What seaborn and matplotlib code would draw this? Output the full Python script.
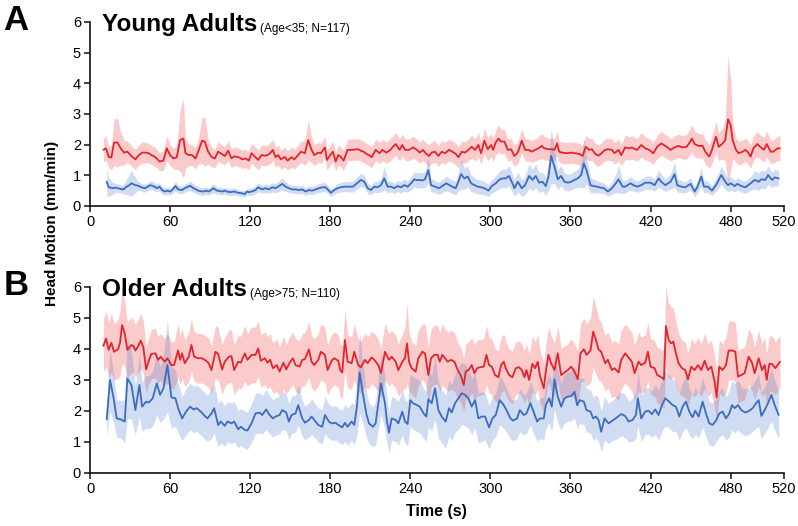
import numpy as np
import pandas as pd
import matplotlib
matplotlib.use("Agg")
import matplotlib.pyplot as plt
from matplotlib import font_manager
import seaborn as sns

# (time s, mean, band half-width)
young_red = [(10,1.83,0.38),(12,1.88,0.4),(14,1.6,0.35),(16,1.58,0.4),(18,2.07,0.75),(20.5,2.07,0.8),(23,1.88,0.55),(25.5,1.74,0.4),(28,1.77,0.35),(31,1.63,0.33),(34,1.52,0.33),(36,1.63,0.32),(39,1.74,0.35),(42,1.74,0.33),(44,1.72,0.32),(46,1.66,0.3),(48,1.62,0.32),(50,1.55,0.3),(52,1.45,0.3),(55,1.48,0.32),(57.5,1.88,0.4),(60,1.66,0.35),(62.5,1.55,0.33),(65,1.59,0.4),(67.5,2.15,1.0),(70,2.2,1.3),(71.5,1.72,0.5),(74,1.66,0.35),(76.5,1.66,0.33),(79,1.55,0.35),(81,1.77,0.4),(84,2.13,0.75),(86,2.1,0.8),(88.5,1.77,0.4),(91,1.6,0.33),(93.5,1.55,0.3),(96,1.77,0.33),(98.5,1.7,0.3),(101,1.63,0.3),(103.5,1.8,0.33),(106,1.55,0.3),(108,1.62,0.3),(110,1.6,0.3),(112,1.58,0.3),(114,1.52,0.3),(116.5,1.55,0.3),(119,1.48,0.3),(121,1.72,0.32),
    (124,1.59,0.33),(126,1.5,0.32),(128.5,1.66,0.33),(131,1.64,0.33),(133,1.66,0.33),(135,1.72,0.34),(137,1.83,0.35),(139,1.59,0.33),(141,1.66,0.33),(143,1.52,0.32),(146,1.6,0.33),(148,1.48,0.32),(151,1.59,0.33),(153,1.52,0.32),(156,1.66,0.33),(158,1.77,0.35),(161,1.72,0.4),(163.5,2.15,0.65),(166,1.83,0.42),(168,1.66,0.35),(171,1.74,0.33),(173,1.72,0.33),(176,1.91,0.35),(177.5,1.5,0.33),(180,1.66,0.33),(182,1.77,0.33),(184,1.45,0.32),(186,1.66,0.33),(188,1.6,0.33),(190,1.48,0.33),(193,1.83,0.35),(196,1.83,0.35),(198.5,1.84,0.35),(201,1.85,0.35),(203,1.8,0.35),(205,1.77,0.35),(207,1.7,0.34),(209,1.66,0.34),(211,1.59,0.34),(214,1.83,0.35),(217,1.72,0.35),(219,1.83,0.35),(222,1.74,0.35),(225,1.83,0.36),(227,1.93,0.36),(229,2.02,0.38),(232,1.83,0.36),(234,1.99,0.36),(236,1.83,0.35),(239,1.83,0.35),(242,1.91,0.36),(245,1.83,0.35),(247,1.74,0.35),(249.5,1.83,0.35),
    (251.5,1.72,0.35),(254,1.63,0.35),(256,1.74,0.35),(258.5,1.77,0.35),(261,1.63,0.34),(263.5,1.77,0.35),(266,1.72,0.35),(269,1.83,0.36),(271.5,1.77,0.35),(274,1.7,0.35),(276,1.59,0.34),(278.5,1.77,0.35),(281,1.74,0.35),(283.5,1.83,0.36),(286,1.93,0.38),(288.5,1.83,0.36),(291,1.99,0.4),(293,1.72,0.36),(295.5,2.13,0.42),(298,1.85,0.38),(300.5,1.99,0.38),(302,1.83,0.38),(304,2.07,0.4),(306,2.2,0.45),(308,2.1,0.4),(310.5,2.1,0.4),(313,1.83,0.36),(315.5,1.85,0.36),(318,1.63,0.35),(320.5,1.74,0.35),(323.5,2.13,0.4),(326,1.83,0.36),(328.5,1.83,0.36),(331,1.77,0.35),(333.5,1.83,0.36),(336,1.88,0.38),(338.5,1.96,0.4),(340.5,1.88,0.38),(343.5,1.85,0.36),(346,1.85,0.36),(348,1.83,0.36),(350,2.04,0.4),(351.5,1.77,0.35),(354,1.74,0.35),(357,1.72,0.35),(360.5,1.74,0.35),(363.5,1.72,0.35),(366.5,1.7,0.35),(369,1.63,0.35),(371.5,1.93,0.38),(374,1.83,0.36),(376,1.85,0.36),
    (378.5,1.7,0.35),(381,1.64,0.35),(383,1.71,0.35),(386,1.83,0.36),(388,1.85,0.36),(391,1.83,0.36),(393,1.72,0.35),(396,1.83,0.36),(398,1.66,0.35),(401,1.91,0.4),(404,1.88,0.38),(406,1.91,0.38),(408,1.86,0.37),(410,1.83,0.36),(413,1.99,0.4),(416,1.88,0.38),(419,1.83,0.36),(422,1.72,0.36),(425,1.93,0.38),(428,2.04,0.4),(431,1.96,0.38),(433,1.9,0.38),(435,1.83,0.36),(438,1.91,0.38),(441,1.96,0.38),(444,1.91,0.38),(447,1.93,0.4),(449,2.05,0.42),(451,2.2,0.45),(453,2.02,0.42),(456,1.96,0.4),(459,1.96,0.4),(461,1.77,0.4),(464,1.61,0.38),(466,1.83,0.45),(469,2.26,0.5),(471,1.93,0.45),(474,2.04,0.5),(476,2.15,0.7),(478,2.83,2.1),(480,2.64,1.5),(481.5,2.15,0.6),(484,1.83,0.4),(486,1.72,0.38),(489,1.77,0.38),(491,1.83,0.38),(493,1.75,0.38),(495,1.61,0.38),(497,1.88,0.4),(500,2.02,0.42),(502,1.93,0.4),(505,1.83,0.4),(507,2.02,0.42),(510,1.77,0.38),(512,1.77,0.38),(515,1.88,0.4),(517,1.88,0.4)]

young_blue = [(12.5,0.79,0.45),(14,0.61,0.3),(17.5,0.58,0.18),(19,0.6,0.15),(21,0.58,0.14),(23,0.55,0.13),(25,0.54,0.15),(27.5,0.63,0.25),(29.5,0.68,0.35),(31,0.74,0.42),(34,0.68,0.25),(36,0.66,0.15),(37.5,0.63,0.14),(39,0.6,0.13),(41,0.58,0.13),(43,0.62,0.13),(45,0.68,0.14),(47.5,0.65,0.14),(50,0.58,0.13),(52,0.63,0.13),(54,0.52,0.12),(56,0.47,0.12),(58,0.5,0.12),(60,0.47,0.12),(62,0.54,0.13),(64,0.65,0.15),(66,0.54,0.13),(69,0.52,0.12),(71,0.58,0.13),(73,0.62,0.14),(75,0.66,0.16),(77.5,0.58,0.14),(79,0.55,0.13),(81,0.5,0.12),(83,0.48,0.12),(85,0.47,0.12),(87,0.5,0.12),(89,0.47,0.12),(92.5,0.58,0.15),(95,0.5,0.12),(97,0.49,0.11),(99,0.47,0.11),(101,0.5,0.11),(102.5,0.47,0.11),(105,0.45,0.11),(107.5,0.47,0.11),(109,0.46,0.11),(111,0.43,0.1),(113,0.42,0.1),(116,0.39,0.1),(117.5,0.47,0.11),(119,0.45,0.11),(121,0.47,0.12),
    (124,0.52,0.13),(126,0.61,0.14),(129,0.54,0.13),(131.5,0.58,0.14),(134,0.54,0.13),(136.5,0.61,0.15),(139,0.58,0.15),(141.5,0.65,0.17),(144,0.72,0.2),(146.5,0.63,0.16),(149,0.58,0.14),(151.5,0.54,0.13),(154,0.54,0.13),(156.5,0.52,0.13),(159,0.54,0.13),(161.5,0.47,0.12),(164,0.52,0.13),(166.5,0.5,0.13),(169,0.54,0.13),(171.5,0.58,0.14),(174,0.61,0.15),(176.5,0.61,0.15),(179,0.5,0.13),(180.5,0.43,0.12),(183,0.52,0.13),(185.5,0.58,0.15),(188,0.61,0.16),(190.5,0.63,0.16),(193.5,0.63,0.17),(197,0.63,0.18),(200,0.74,0.2),(203,0.85,0.22),(205.5,0.79,0.2),(208,0.58,0.17),(210.5,0.52,0.16),(213,0.63,0.18),(215.5,0.61,0.18),(218,0.68,0.22),(220.5,0.9,0.38),(223,0.63,0.2),(225.5,0.63,0.18),(228,0.58,0.17),(230.5,0.65,0.18),(233,0.61,0.18),(235.5,0.68,0.2),(238,0.63,0.18),(240.5,0.74,0.22),(243,0.87,0.25),(245,0.84,0.25),(247,0.85,0.25),(249,0.83,0.25),
    (251,0.87,0.27),(253.5,1.17,0.4),(255.5,0.68,0.22),(258.5,0.63,0.2),(261.5,0.58,0.2),(265,0.68,0.22),(267,0.74,0.24),(270.5,0.65,0.22),(274,0.58,0.22),(276,0.79,0.3),(278,1.04,0.5),(280.5,0.9,0.35),(283,0.96,0.33),(285.5,0.74,0.27),(288,0.68,0.25),(290.5,0.63,0.24),(293,0.61,0.23),(295.5,0.58,0.22),(298.5,0.5,0.2),(301,0.65,0.22),(304,0.74,0.25),(306.5,0.85,0.28),(309,0.9,0.3),(311.5,0.9,0.3),(314,0.98,0.33),(316.5,0.74,0.3),(318,0.58,0.27),(320.5,0.79,0.32),(323.5,0.58,0.27),(326,0.68,0.3),(329,0.98,0.4),(331.5,0.85,0.35),(334,0.98,0.38),(336.5,0.76,0.32),(339,0.79,0.3),(341.5,0.65,0.3),(343.5,0.96,0.45),(345.5,1.63,0.9),(348,1.28,0.55),(350.5,0.87,0.33),(353,0.98,0.33),(355.5,0.79,0.28),(358,0.76,0.27),(360.5,0.79,0.27),(363,0.85,0.28),(365.5,0.9,0.3),(368,1.01,0.4),(370,1.39,0.8),(372,1.17,0.45),(375,0.68,0.25),(377,0.65,0.22),
    (380,0.63,0.2),(382.5,0.6,0.18),(385,0.58,0.17),(388,0.47,0.15),(391,0.58,0.2),(394,0.74,0.3),(396,0.87,0.45),(399,0.63,0.22),(401,0.63,0.2),(405,0.74,0.22),(407,0.68,0.2),(410,0.63,0.18),(413,0.68,0.2),(416,0.76,0.22),(420,0.76,0.22),(423,0.68,0.2),(426,0.9,0.28),(428,0.79,0.24),(431,0.68,0.2),(435,0.79,0.25),(438,1.04,0.42),(440,0.68,0.22),(443,0.63,0.2),(446,0.61,0.18),(450,0.72,0.2),(453,0.47,0.17),(455,0.61,0.2),(458,0.96,0.3),(460,0.63,0.2),(463,0.63,0.18),(466,0.5,0.16),(469,0.68,0.2),(473,1.01,0.3),(476,0.79,0.25),(478,0.68,0.22),(480,0.74,0.22),(483,0.65,0.2),(485,0.72,0.2),(488,0.65,0.2),(491,0.61,0.2),(495,0.74,0.22),(498,0.85,0.3),(501,0.79,0.28),(503,0.87,0.3),(506,0.85,0.28),(508,1.01,0.3),(511,0.85,0.25),(513,0.93,0.27),(516,0.9,0.25)]

older_red = [(10,4.1,0.85),(12,4.34,0.9),(14,3.97,0.9),(16,4.2,0.95),(18,3.91,0.9),(21,3.99,0.95),(22.5,4.2,1.05),(24,4.77,1.25),(26,4.5,1.05),(28,3.97,0.9),(31,4.13,0.9),(32.5,4.1,0.85),(34,3.95,0.85),(36,4.08,0.85),(38,4.27,0.9),(40,4.05,0.85),(42,3.34,0.75),(44,3.62,0.75),(46,3.84,0.8),(49,3.86,0.8),(51,3.65,0.75),(53,3.75,0.75),(56,3.59,0.75),(58,3.7,0.8),(61,3.48,0.75),(63,3.48,0.75),(66,3.95,0.85),(67.5,3.65,0.8),(69,3.86,0.8),(71,3.54,0.75),(74,3.75,0.8),(76,4.13,0.85),(78,3.75,0.8),(81,3.7,0.8),(84,3.7,0.8),(87,3.62,0.8),(89,3.54,0.8),(91,3.32,0.75),(94,3.91,0.85),(96,3.84,0.85),(99,3.34,0.8),(101,3.59,0.8),(104,3.75,0.85),(106,3.77,0.85),(108,3.32,0.8),(111,3.59,0.85),(113,3.56,0.85),(116,3.86,0.9),(118,3.65,0.85),(121,3.81,0.9),
    (124,3.81,0.9),(126,4.02,0.9),(128,3.62,0.85),(131,3.7,0.85),(133,3.56,0.85),(135,3.65,0.85),(137,3.38,0.8),(140,3.48,0.85),(142,3.27,0.8),(145,3.56,0.85),(147,3.34,0.8),(150,3.59,0.85),(152,3.7,0.85),(154,3.48,0.85),(157,3.43,0.85),(159,3.65,0.85),(161,3.67,0.85),(164,3.99,0.9),(166,3.59,0.85),(168,3.48,0.85),(171,3.65,0.85),(173,3.91,0.9),(176,3.81,0.9),(178,3.32,0.8),(181,3.62,0.85),(183,3.7,0.85),(186,3.62,0.85),(187.5,3.32,0.85),(189,3.24,0.85),(191,4.29,1.0),(193,3.59,0.85),(196,3.54,0.85),(198,3.91,0.9),(201,3.48,0.85),(203,3.41,0.85),(206,3.65,0.85),(208,3.54,0.85),(211,3.73,0.85),(213,3.65,0.85),(216,3.48,0.85),(218,3.22,0.8),(221,3.91,0.9),(224,3.65,0.85),(226,3.75,0.85),(229,3.59,0.85),(231,3.32,0.85),(234,3.59,0.9),(236,3.7,1.0),(237.5,4.18,1.3),(239,3.59,0.95),(241,3.38,0.85),(244,3.27,0.85),(246,3.7,0.9),(249,3.91,0.9),
    (251,3.86,0.95),(253.5,3.16,0.9),(255.5,3.7,0.95),(258,3.81,0.95),(260.5,3.81,0.95),(262,3.59,0.95),(264,3.81,1.0),(266,3.7,0.95),(268,3.59,0.95),(270.5,3.65,0.95),(273,3.59,0.95),(275.5,3.32,0.9),(278,3.13,0.9),(280,2.84,0.85),(281.5,3.27,0.9),(284,3.34,0.9),(286,3.48,0.9),(288,3.22,0.9),(290,3.38,0.9),(292,3.41,0.9),(295,3.43,0.9),(297,3.81,0.95),(299,3.48,0.9),(301,3.43,0.9),(303.5,3.16,0.85),(306,3.09,0.85),(308,3.48,0.9),(310,3.59,0.9),(311.5,3.38,0.85),(314,3.16,0.85),(316.5,3.09,0.85),(319,3.38,0.85),(321.5,3.41,0.85),(323.5,3.32,0.85),(325.5,3.09,0.85),(327,3.32,0.85),(329,3.0,0.85),(331.5,3.52,0.9),(333.5,3.38,0.85),(335.5,3.59,0.9),(337,3.16,0.85),(340,2.73,0.8),(341.5,3.27,0.85),(343.5,3.81,0.9),(345.5,3.54,0.9),(348,3.32,0.85),(350.5,3.86,0.9),(353,3.16,0.85),(355.5,3.24,0.85),(358,3.32,0.85),(360.5,3.43,0.9),(363,3.27,0.9),(365.5,3.02,0.9),(367.5,3.86,0.95),(370,3.99,1.0),(372,3.81,1.0),(375,3.95,1.05),(377,4.56,1.15),
    (379,4.3,1.1),(381,3.99,1.0),(383,3.91,0.95),(386,3.54,0.9),(388,3.65,0.9),(391,3.32,0.9),(393,3.38,0.9),(396,3.24,0.9),(398,3.65,0.95),(401,3.86,0.95),(403,3.75,0.95),(406,3.59,0.95),(408,3.22,0.9),(411,3.59,0.95),(413,3.48,0.9),(416,3.56,0.9),(418,3.91,0.95),(420,3.43,0.9),(423,3.38,0.9),(425,3.16,0.9),(428,3.09,0.9),(430,3.02,0.95),(431.5,4.74,1.3),(433.5,4.29,1.2),(435.5,4.18,1.15),(437,4.24,1.1),(439,3.86,1.0),(441,3.54,0.95),(443.5,3.38,0.9),(446,3.32,0.9),(448,3.02,0.85),(450.5,3.43,0.9),(453,3.32,0.85),(455.5,3.48,0.9),(458,3.32,0.85),(460.5,3.62,0.9),(463,3.32,0.85),(465.5,3.43,0.85),(468,2.95,0.85),(469.5,2.44,0.8),(471.5,3.43,0.85),(474,3.32,0.85),(476.5,3.48,0.9),(478.5,3.95,0.95),(481.5,3.95,0.95),(483.5,3.91,0.95),(485.5,3.11,0.85),(488,3.16,0.85),(490.5,3.22,0.85),(493.5,3.75,0.9),(496,3.56,0.9),(498,3.22,0.85),(501,3.7,0.9),(503.5,3.32,0.85),(505.5,3.48,0.9),(507,3.0,0.85),(509,3.52,0.9),(511,3.52,0.9),(513.5,3.38,0.85),(517,3.59,0.85)]

older_blue = [(12.5,1.73,0.55),(15,3.0,1.0),(17.5,2.46,0.8),(20,1.76,0.6),(23,1.73,0.6),(26,1.66,0.7),(28,3.05,1.3),(31,2.84,1.1),(34,2.03,0.8),(37,2.84,1.0),(39,2.14,0.8),(42,2.3,0.85),(44,2.27,0.85),(47,2.41,0.9),(50,2.89,1.0),(52.5,2.52,0.9),(55,2.73,1.0),(58,3.48,1.5),(61,2.44,1.0),(64,2.41,0.9),(66,2.09,0.8),(69,1.76,0.7),(72,1.98,0.75),(75,2.14,0.75),(77.5,2.05,0.75),(80,2.09,0.75),(83,1.98,0.75),(86,1.84,0.75),(88,1.76,0.75),(91,1.92,0.8),(93,2.09,0.8),(96,1.55,0.7),(98,1.66,0.7),(101,1.52,0.65),(103,1.66,0.65),(106,1.6,0.65),(108,1.66,0.65),(111,1.41,0.6),(113,1.49,0.6),(116,1.39,0.6),(118,1.37,0.6),(121,1.6,0.62),
    (124,1.92,0.65),(127,1.95,0.65),(129,1.87,0.62),(132,2.05,0.65),(134,1.9,0.62),(137,1.76,0.6),(139,1.82,0.6),(142,1.87,0.6),(144,2.03,0.62),(147,1.95,0.6),(149,1.66,0.58),(151,1.87,0.6),(154,1.92,0.6),(156,2.19,0.65),(159,1.76,0.58),(161,1.62,0.55),(164,1.71,0.55),(166,1.82,0.58),(169,1.66,0.55),(171,1.55,0.55),(174,1.49,0.55),(176,1.87,0.6),(179,1.66,0.55),(181,1.6,0.55),(184,1.62,0.55),(186,1.55,0.55),(189,1.47,0.55),(191,1.62,0.6),(193,1.49,0.6),(196,1.66,0.6),(198,1.55,0.65),(200,2.14,0.9),(202,3.24,1.3),(204,2.68,1.0),(207,1.92,0.75),(209,1.6,0.65),(212,1.49,0.65),(214,1.6,0.7),(216,2.25,0.85),(218,2.89,1.0),(221,2.25,0.85),(222.5,1.66,0.7),(224,1.3,0.65),(226,1.76,0.7),(229,1.71,0.7),(231,1.6,0.7),(234,1.98,0.75),(236,1.66,0.7),(238,1.58,0.7),(240,2.35,0.85),(242,2.25,0.85),(245,2.19,0.85),(247,2.14,0.85),(250,1.92,0.8),
    (252,1.82,0.8),(253.5,2.38,0.9),(256,2.25,0.9),(258.5,2.73,1.0),(261,2.03,0.9),(263.5,1.82,0.85),(266.5,1.66,0.85),(269,2.09,0.9),(271,1.95,0.9),(273.5,2.25,0.95),(276,2.41,1.0),(278.5,2.57,1.0),(281,2.52,1.0),(283.5,2.41,0.95),(286,2.14,0.9),(288.5,2.35,0.9),(291,1.76,0.8),(293.5,1.82,0.8),(296,1.82,0.75),(299,1.47,0.7),(301.5,1.76,0.7),(304,1.87,0.7),(307,2.35,0.8),(310,2.19,0.75),(312,2.03,0.7),(315,1.76,0.65),(317,1.69,0.65),(320,1.76,0.65),(322,2.03,0.7),(325,1.87,0.65),(327,1.92,0.65),(330,2.25,0.7),(332,2.01,0.7),(335,1.66,0.65),(337,1.76,0.65),(340,1.76,0.7),(341.5,2.19,0.75),(344,2.41,0.8),(346,2.14,0.8),(348,3.02,0.95),(350.5,2.46,0.85),(353,2.14,0.75),(355.5,2.41,0.8),(358,2.46,0.8),(360.5,2.48,0.8),(363,2.62,0.85),(365,2.19,0.75),(367,2.35,0.75),(370,2.3,0.75),(372,2.03,0.7),(375,1.98,0.7),(377,1.76,0.7),
    (379,1.82,0.7),(381,1.71,0.7),(383,1.33,0.65),(385.5,1.76,0.7),(388.5,1.6,0.65),(391.5,1.69,0.65),(395,1.8,0.7),(398,1.9,0.7),(401,1.84,0.7),(403.5,1.66,0.65),(406.5,1.71,0.7),(409,1.87,0.75),(410.5,2.41,0.9),(413,1.76,0.75),(416,1.98,0.75),(418.5,2.01,0.75),(421,1.9,0.75),(423.5,2.05,0.8),(426,1.87,0.8),(428.5,2.19,0.85),(431,2.41,0.9),(434,2.3,0.85),(436.5,2.19,0.85),(439,2.14,0.8),(441.5,1.82,0.75),(444,2.14,0.8),(446.5,2.3,0.85),(449,1.98,0.75),(451.5,1.8,0.7),(453.5,2.01,0.75),(456,1.82,0.7),(459,2.3,0.8),(461.5,1.92,0.75),(464,1.6,0.7),(466.5,1.55,0.7),(469,1.69,0.7),(471.5,1.92,0.75),(474,1.98,0.75),(476.5,1.76,0.7),(479,1.92,0.75),(481,2.19,0.8),(483,2.09,0.8),(485.5,2.19,0.8),(488,2.03,0.75),(491,1.95,0.75),(494,2.01,0.75),(496.5,2.09,0.75),(499,2.25,0.8),(501,2.35,0.85),(503,1.84,0.75),(505.5,2.03,0.75),(508,2.25,0.8),(510.5,2.52,0.85),(513,2.19,0.8),(516,1.87,0.75)]

x_ticks = [0, 60, 120, 180, 240, 300, 360, 420, 480, 520]
y_ticks = [0, 1, 2, 3, 4, 5, 6]

RED, RED_FILL = "#e3242b", "#f2464b"
BLUE, BLUE_FILL = "#3c6cbf", "#4676c8"

sns.set_style("ticks")
plt.rcParams["font.family"] = ["Liberation Sans", "DejaVu Sans"]
plt.rcParams["text.color"] = "black"

# condensed face for ticks and axis labels, if it is installed
names = {f.name for f in font_manager.fontManager.ttflist}
NARROW = ["Liberation Sans Narrow", "Liberation Sans"] if "Liberation Sans Narrow" in names else ["Liberation Sans"]
narrow_size = 11.5 if NARROW[0] == "Liberation Sans Narrow" else 10.5


def draw_panel(ax, red, blue):
    for rows, fill_c, a in [(red, RED_FILL, 0.28), (blue, BLUE_FILL, 0.25)]:
        df = pd.DataFrame(rows, columns=["t", "m", "hw"])
        ax.fill_between(df["t"], df["m"] - df["hw"], df["m"] + df["hw"],
                        color=fill_c, alpha=a, lw=0)
    for rows, line_c in [(red, RED), (blue, BLUE)]:
        df = pd.DataFrame(rows, columns=["t", "m", "hw"])
        sns.lineplot(data=df, x="t", y="m", color=line_c, lw=1.3, ax=ax,
                     estimator=None, sort=False)
    ax.set_xlim(0, 520)
    ax.set_ylim(0, 6)
    ax.set_xticks(x_ticks)
    ax.set_yticks(y_ticks)
    ax.set_xlabel("")
    ax.set_ylabel("")
    sns.despine(ax=ax)
    for s in ["left", "bottom"]:
        ax.spines[s].set_linewidth(1.2)
        ax.spines[s].set_color("#111111")
    ax.tick_params(direction="out", length=4.5, width=1.1, color="#111111",
                   pad=2, labelcolor="black")
    for lab in ax.get_xticklabels() + ax.get_yticklabels():
        lab.set_family(NARROW)
        lab.set_fontsize(narrow_size)


fig = plt.figure(figsize=(7.98, 5.26), dpi=100)
ax1 = fig.add_axes([0.1128, 0.6084, 0.8697, 0.3498])
ax2 = fig.add_axes([0.1128, 0.1008, 0.8697, 0.3536])
draw_panel(ax1, young_red, young_blue)
draw_panel(ax2, older_red, older_blue)

for ax, letter, title, sub in [(ax1, "A", "Young Adults", "(Age<35; N=117)"),
                               (ax2, "B", "Older Adults", "(Age>75; N=110)")]:
    top = ax.get_position().y1
    fig.text(0.004, top + 0.003, letter, fontsize=25, weight="bold", va="center", ha="left")
    t = fig.text(0.128, top - 0.017, title, fontsize=17.5, weight="bold", va="baseline", ha="left")
    ax.annotate(sub, xy=(1, 0.17), xycoords=t, xytext=(2, 0), textcoords="offset points",
                fontsize=8.5, va="baseline", ha="left")

fig.text(0.065, 0.575, "Head Motion (mm/min)", rotation=90, fontsize=narrow_size + 0.5,
         weight="bold", va="center", ha="center", family=NARROW)
fig.text(0.547, 0.027, "Time (s)", fontsize=narrow_size + 1, weight="bold",
         va="center", ha="center", family=NARROW)

fig.savefig("out.png", dpi=100)
